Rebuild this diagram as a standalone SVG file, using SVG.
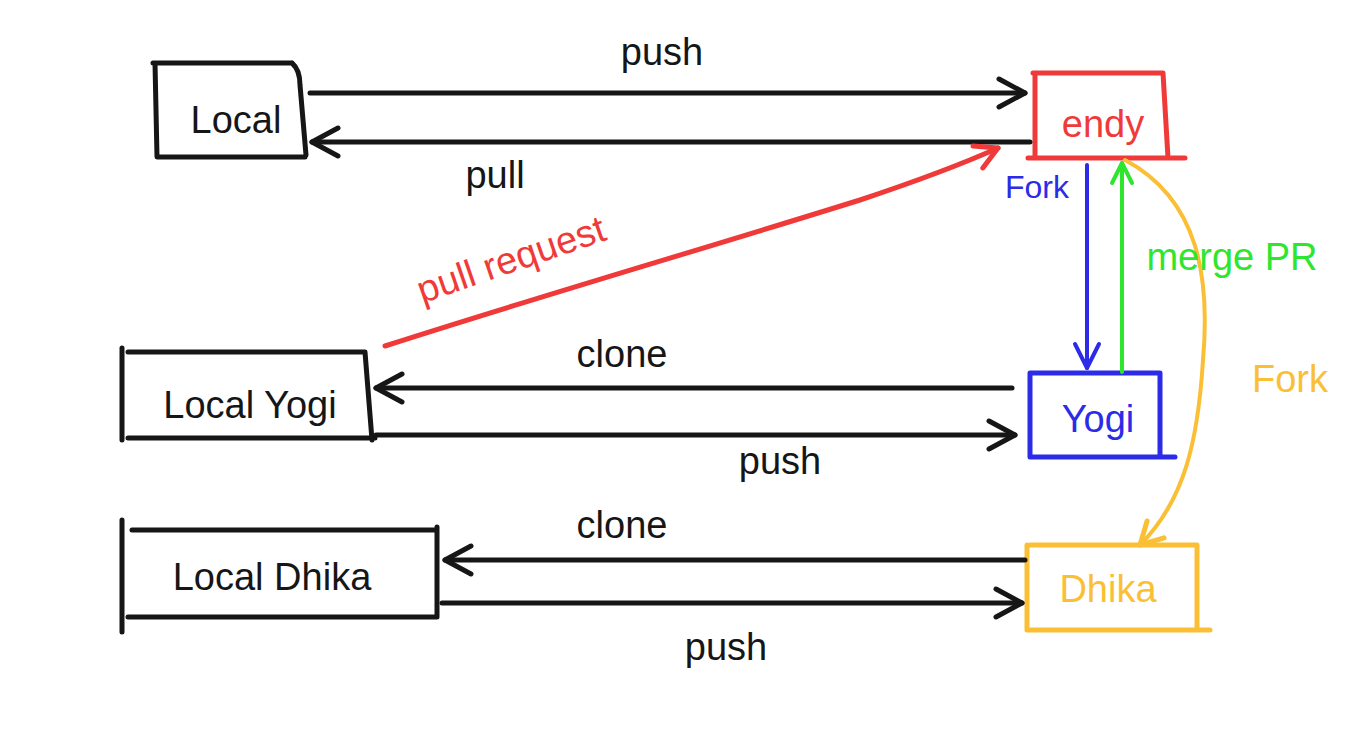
<svg xmlns="http://www.w3.org/2000/svg" width="1362" height="746" viewBox="0 0 1362 746">
<defs>
<style>
.ln{fill:none;stroke-width:5;stroke-linecap:round;stroke-linejoin:round}
.k{stroke:#161616}.r{stroke:#f03a3a}.b{stroke:#2b2be8}.g{stroke:#2ee62e}.o{stroke:#fbbf35}
text{font-family:"Liberation Sans","DejaVu Sans",sans-serif;font-size:38px;text-anchor:middle}
.tk{fill:#161616}.tr{fill:#f03a3a}.tb{fill:#2b2be8}.tg{fill:#2ee62e}.to{fill:#fbbf35}
</style>
<marker id="ak" markerUnits="userSpaceOnUse" viewBox="-30 -20 34 40" refX="0" refY="0" markerWidth="34" markerHeight="40" orient="auto"><path d="M-26,-14 L0,0 L-26,14" fill="none" stroke="#161616" stroke-width="5" stroke-linecap="round" stroke-linejoin="round"/></marker>
<marker id="ar" markerUnits="userSpaceOnUse" viewBox="-30 -20 34 40" refX="0" refY="0" markerWidth="34" markerHeight="40" orient="auto"><path d="M-22,-12 L0,0 L-22,12" fill="none" stroke="#f03a3a" stroke-width="5" stroke-linecap="round" stroke-linejoin="round"/></marker>
<marker id="ab" markerUnits="userSpaceOnUse" viewBox="-30 -20 34 40" refX="0" refY="0" markerWidth="34" markerHeight="40" orient="auto"><path d="M-24,-12 L0,0 L-24,12" fill="none" stroke="#2b2be8" stroke-width="4" stroke-linecap="round" stroke-linejoin="round"/></marker>
<marker id="ag" markerUnits="userSpaceOnUse" viewBox="-30 -20 34 40" refX="0" refY="0" markerWidth="34" markerHeight="40" orient="auto"><path d="M-20,-10 L0,0 L-20,10" fill="none" stroke="#2ee62e" stroke-width="4" stroke-linecap="round" stroke-linejoin="round"/></marker>
<marker id="ao" markerUnits="userSpaceOnUse" viewBox="-30 -20 34 40" refX="0" refY="0" markerWidth="34" markerHeight="40" orient="auto"><path d="M-22,-12 L0,0 L-22,12" fill="none" stroke="#fbbf35" stroke-width="5" stroke-linecap="round" stroke-linejoin="round"/></marker>
</defs>
<rect width="1362" height="746" fill="#ffffff"/>

<g id="local">
<path class="ln k" d="M153,63 L292,63 M155,63 L157,157 L305,157 M292,63 Q300,70 300,85 L306,155"/>
<text class="tk" x="236" y="133">Local</text>
</g>
<g id="endy">
<path class="ln r" d="M1033,73 L1163,73 M1035,73 L1035,158 M1028,158 L1185,158 M1163,73 L1168,158"/>
<text class="tr" x="1103" y="137">endy</text>
</g>
<g id="local-yogi">
<path class="ln k" d="M122,348 L122,440 M128,352 L365,352 M128,438 L375,438 M365,352 L372,440"/>
<text class="tk" x="250" y="418">Local Yogi</text>
</g>
<g id="yogi">
<path class="ln b" d="M1030,373 L1160,373 M1030,373 L1030,457 L1175,457 M1160,373 L1160,457"/>
<text class="tb" x="1098" y="432">Yogi</text>
</g>
<g id="local-dhika">
<path class="ln k" d="M122,520 L122,632 M132,530 L437,530 M128,617 L437,617 M437,527 L437,617"/>
<text class="tk" x="272" y="590">Local Dhika</text>
</g>
<g id="dhika">
<path class="ln o" d="M1030,545 L1197,545 M1027,545 L1027,630 L1210,630 M1197,545 L1197,630"/>
<text class="to" x="1108" y="602">Dhika</text>
</g>

<g id="connectors">
<path class="ln k" d="M310,93 L1025,93" marker-end="url(#ak)"/>
<path class="ln k" d="M1030,142 L312,142" marker-end="url(#ak)"/>
<path class="ln r" d="M385,346 C560,290 700,250 860,200 C920,180 960,165 998,148" marker-end="url(#ar)"/>
<path class="ln b" d="M1087,165 L1087,368" marker-end="url(#ab)" style="stroke-width:4"/>
<path class="ln g" d="M1122,372 L1122,163" marker-end="url(#ag)" style="stroke-width:4"/>
<path class="ln o" d="M1125,160 C1200,200 1210,280 1203,360 C1198,440 1185,500 1140,545" marker-end="url(#ao)" style="stroke-width:4"/>
<path class="ln k" d="M1012,388 L376,388" marker-end="url(#ak)"/>
<path class="ln k" d="M376,435 L1015,435" marker-end="url(#ak)"/>
<path class="ln k" d="M1025,560 L445,560" marker-end="url(#ak)"/>
<path class="ln k" d="M442,603 L1022,603" marker-end="url(#ak)"/>
</g>

<g id="labels">
<text class="tk" x="662" y="65">push</text>
<text class="tk" x="495" y="188">pull</text>
<text class="tr" x="512" y="272" transform="rotate(-19 512 262)">pull request</text>
<text class="tb" x="1037" y="198" style="font-size:32px">Fork</text>
<text class="tg" x="1232" y="270">merge PR</text>
<text class="to" x="1290" y="392">Fork</text>
<text class="tk" x="622" y="367">clone</text>
<text class="tk" x="780" y="474">push</text>
<text class="tk" x="622" y="538">clone</text>
<text class="tk" x="726" y="660">push</text>
</g>
</svg>
